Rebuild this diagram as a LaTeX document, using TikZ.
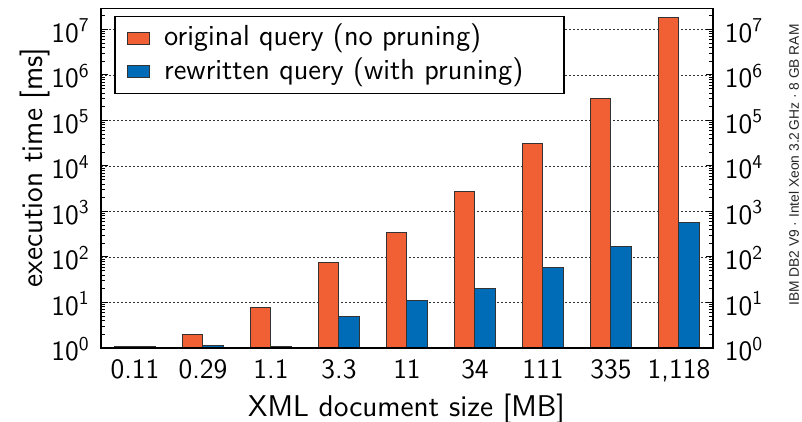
\documentclass[tikz,border=0pt]{standalone}
\usepackage{fontspec}
\newfontfamily\sysfont{Liberation Sans}
\usepackage{tikz}
\usetikzlibrary{positioning}
\definecolor{origorange}{RGB}{241,96,53}
\definecolor{prunblue}{RGB}{0,108,183}
\definecolor{baredge}{RGB}{51,51,51}

\begin{document}
\begin{tikzpicture}[
  x=34pt, y=22.75pt,
  font=\sffamily\fontsize{14}{16}\selectfont,
  gridline/.style={dash pattern=on 1pt off 1pt, line width=0.4pt, black!80},
  barorig/.style={fill=origorange, draw=baredge, line width=0.5pt},
  barpruned/.style={fill=prunblue, draw=baredge, line width=0.5pt},
  ticklabel/.style={inner sep=0pt},
  swatch/.style={rectangle, draw=baredge, line width=0.5pt, minimum width=11pt,
                 minimum height=6pt, inner sep=0pt},
  legtext/.style={inner sep=0pt, font=\sffamily\fontsize{14.5}{17}\selectfont},
  axislabel/.style={inner sep=0pt, font=\sffamily\fontsize{15}{18}\selectfont}
]
\useasboundingbox (-1.485,-1.626) rectangle (10.309,7.648);

% dashed grid at every decade
\foreach \k in {1,...,7}
  \draw[gridline] (0,\k) -- (9,\k);

% bar heights are log10 of the run time in ms
\foreach \o/\b [count=\i from 0] in {0.04/0.04, 0.30/0.05, 0.90/0.04, 1.88/0.70,
    2.53/1.04, 3.45/1.30, 4.49/1.78, 5.48/2.24, 7.26/2.76} {
  \draw[barorig] (\i+0.2,0) rectangle (\i+0.5,\o);
  \draw[barpruned] (\i+0.5,0) rectangle (\i+0.8,\b);
}

% log ticks, left and right
\foreach \k in {0,...,6}
  \foreach \m in {2,...,9}
    \draw[line width=0.5pt] (0,{\k+log10(\m)}) -- ++(2pt,0)
                            (9,{\k+log10(\m)}) -- ++(-2pt,0);
\draw[line width=0.5pt] (0,{7+log10(2)}) -- ++(2pt,0) (9,{7+log10(2)}) -- ++(-2pt,0);
\foreach \k in {0,...,7} {
  \draw[line width=0.5pt] (0,\k) -- ++(3.5pt,0) (9,\k) -- ++(-3.5pt,0);
  \node[ticklabel, anchor=base east] (yl\k) at ([xshift=-5.5pt,yshift=-6.4pt]0,\k)
    {10\textsuperscript{\k}};
  \node[ticklabel, anchor=base west] (yr\k) at ([xshift=5.75pt,yshift=-6.4pt]9,\k)
    {10\textsuperscript{\k}};
}

% document sizes
\foreach \s [count=\i from 0] in {0.11, 0.29, 1.1, 3.3, 11, 34, 111, 335, {1,118}}
  \node[ticklabel, anchor=base] (xl\i) at ([yshift=-15.5pt]{\i+0.5},0) {\s};

\draw[line width=0.6pt] (0,0) rectangle (9,7.47);

% legend
\node[draw=black, fill=white, line width=0.6pt, minimum width=224.5pt,
      minimum height=38.5pt, inner sep=0pt, anchor=north west] (legend) at (0.196,7.297) {};
\node[swatch, fill=origorange] (sw1) at ([xshift=12pt,yshift=-11.2pt]legend.north west) {};
\node[swatch, fill=prunblue] (sw2) at ([xshift=12pt,yshift=-27.9pt]legend.north west) {};
\node[legtext, right=7pt of sw1] (lt1) {original query (no pruning)};
\node[legtext, right=7pt of sw2] (lt2) {rewritten query (with pruning)};

\node[axislabel, anchor=base] (xlabel) at (4.493,-1.495) {XML document size [MB]};
\node[axislabel, rotate=90, anchor=base] (ylabel) at (-0.853,3.967) {execution time [ms]};

\node[rotate=90, inner sep=0pt, text=black!85, font=\sysfont\fontsize{6.9}{8}\selectfont]
  (sysinfo) at (10.19,4.02) {IBM DB2 V9 · Intel Xeon 3.2\,GHz · 8 GB RAM};
\end{tikzpicture}
\end{document}
